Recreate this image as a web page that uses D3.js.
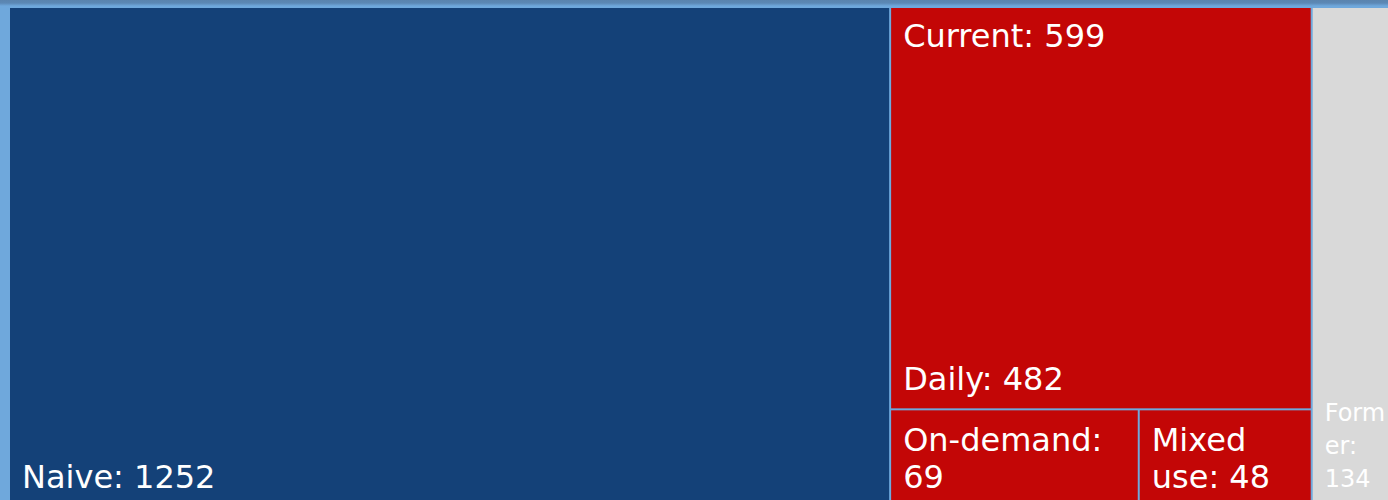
<!DOCTYPE html>
<html>
<head>
<meta charset="utf-8">
<script src="https://cdn.jsdelivr.net/npm/d3@7"></script>
<style>
  html, body { margin: 0; padding: 0; }
  body {
    width: 1388px; height: 500px; overflow: hidden;
    background: linear-gradient(to bottom, #5a84ae 0px, #5c88b5 3px, #6fa8dc 6px, #6fa8dc 100%);
    font-family: "DejaVu Sans", Verdana, sans-serif;
  }
  #chart { position: relative; width: 1388px; height: 500px; }
  #chart svg { position: absolute; left: 0; top: 0; }
  .label {
    position: absolute; box-sizing: border-box;
    padding: 10px 12px 10px 12px;
    display: flex; flex-direction: column;
    color: #fff;
    overflow-wrap: break-word; word-wrap: break-word;
  }
  .label.leaf { justify-content: flex-end; }
  .label.parent { justify-content: flex-start; }
</style>
</head>
<body>
<div id="chart"></div>
<script>
// top level groups
const groups = ["Naive", "Current", "Former"];
const groupValues = [1252, 599, 134];
const groupColors = ["#144178", "#c30606", "#d9d9d9"];

// breakdown of "Current"
const currentTypes = ["Daily", "On-demand", "Mixed use"];
const currentValues = [482, 69, 48];

function drawTreemap() {
    const margin = {top: 8, left: 10},
        width = 1395,
        height = 498;

    const data = {
        name: "root",
        children: groups.map((g, i) => {
            if (g === "Current") {
                return {
                    name: g, group: i,
                    children: currentTypes.map((t, j) => ({name: t, group: i, value: currentValues[j]}))
                };
            }
            return {name: g, group: i, value: groupValues[i]};
        })
    };

    const root = d3.hierarchy(data)
        .sum(d => d.children ? 0 : d.value);

    d3.treemap()
        .tile(d3.treemapSquarify)
        .size([width, height])
        .paddingInner(2)
        .paddingOuter(0)
        .round(false)(root);

    const chart = d3.select("#chart");

    const svg = chart.append("svg")
        .attr("width", 1388)
        .attr("height", 500);

    const g = svg.append("g")
        .attr("transform", `translate(${margin.left},${margin.top})`);

    g.selectAll("rect")
        .data(root.leaves())
        .enter()
        .append("rect")
        .attr("x", d => d.x0)
        .attr("y", d => d.y0)
        .attr("width", d => d.x1 - d.x0)
        .attr("height", d => d.y1 - d.y0)
        .attr("fill", d => groupColors[d.data.group]);

    // small boxes get smaller text
    const fontSize = d => Math.min(32, Math.floor((d.x1 - d.x0) / 3.8));
    const lineHeight = d => Math.round(fontSize(d) * 0.5 + 21);

    // leaf labels, bottom left
    chart.selectAll("div.leaf")
        .data(root.leaves())
        .enter()
        .append("div")
        .attr("class", "label leaf")
        .style("left", d => (margin.left + d.x0) + "px")
        .style("top", d => (margin.top + d.y0) + "px")
        .style("width", d => (d.x1 - d.x0) + "px")
        .style("height", d => (d.y1 - d.y0) + "px")
        .style("font-size", d => fontSize(d) + "px")
        .style("line-height", d => lineHeight(d) + "px")
        .append("span")
        .text(d => `${d.data.name}: ${d.value}`);

    // parent labels, top left
    chart.selectAll("div.parent")
        .data(root.children.filter(d => d.children))
        .enter()
        .append("div")
        .attr("class", "label parent")
        .style("left", d => (margin.left + d.x0) + "px")
        .style("top", d => (margin.top + d.y0) + "px")
        .style("width", d => (d.x1 - d.x0) + "px")
        .style("font-size", d => fontSize(d) + "px")
        .style("line-height", d => lineHeight(d) + "px")
        .append("span")
        .text(d => `${d.data.name}: ${d.value}`);
}

drawTreemap();
</script>
</body>
</html>
